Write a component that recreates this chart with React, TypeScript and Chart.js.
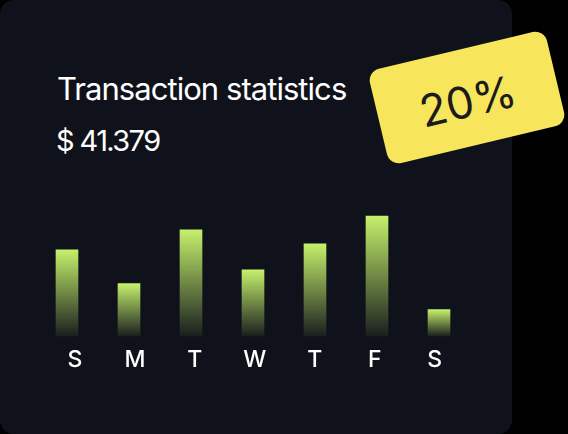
import { useEffect, useRef } from "react";
import { Chart, registerables } from "chart.js";

Chart.register(...registerables);

// weekly transactions, one bar per day
const days = ["S", "M", "T", "W", "T", "F", "S"];
const amounts = [87, 53, 107, 67, 93, 121, 27];

const title = "Transaction statistics";
const total = "$ 41.379";
const badge = "20%";

const LIME = "rgba(198, 241, 108, 1)";
const LIME_FADE = "rgba(198, 241, 108, 0.06)";

export default function App() {
  const canvasRef = useRef<HTMLCanvasElement | null>(null);
  const chartRef = useRef<Chart | null>(null);

  useEffect(() => {
    const ctx = canvasRef.current?.getContext("2d");
    if (!ctx) return;

    chartRef.current?.destroy();

    chartRef.current = new Chart(ctx, {
      type: "bar",
      data: {
        labels: days,
        datasets: [
          {
            data: amounts,
            barThickness: 22,
            borderWidth: 0,
            // each bar fades from lime at its top to nearly transparent at the base
            backgroundColor: (c: any) => {
              const chart = c.chart;
              const y = chart.scales?.y;
              if (c.type !== "data" || !chart.chartArea || !y) return LIME;
              const top = y.getPixelForValue(c.parsed.y);
              const bottom = y.getPixelForValue(0);
              const g = chart.ctx.createLinearGradient(0, top, 0, bottom);
              g.addColorStop(0, LIME);
              g.addColorStop(1, LIME_FADE);
              return g;
            },
          },
        ],
      },
      options: {
        responsive: true,
        maintainAspectRatio: false,
        animation: false,
        layout: { padding: { left: 36, right: 42, top: 27, bottom: 16 } },
        plugins: {
          legend: { display: false },
          tooltip: { enabled: false },
        },
        scales: {
          x: { type: "category", display: false, offset: true },
          // separate axis for the day letters, they sit slightly off the bar centres
          days: {
            type: "linear",
            position: "bottom",
            offset: false,
            min: -0.651,
            max: 6.591,
            afterBuildTicks: (axis: any) => {
              axis.ticks = days.map((_, i) => ({ value: i }));
            },
            grid: { display: false, drawTicks: false },
            border: { display: false },
            ticks: {
              autoSkip: false,
              maxRotation: 0,
              padding: 10,
              color: "#ffffff",
              font: { family: "Inter", size: 23, weight: 500 },
              callback: (v: any) => days[v] ?? "",
            },
          },
          y: { display: false, min: 0, max: 130 },
        },
      },
    });

    return () => {
      chartRef.current?.destroy();
      chartRef.current = null;
    };
  }, []);

  return (
    <div style={{ position: "fixed", inset: 0, background: "#000", overflow: "hidden" }}>
      <div
        style={{
          position: "absolute",
          left: 0,
          top: 0,
          width: 512,
          height: 434,
          background: "#0f121a",
          borderRadius: 14,
          fontFamily: "Inter, sans-serif",
        }}
      >
        <div
          style={{
            position: "absolute",
            left: 57,
            top: 72.5,
            fontSize: 31,
            letterSpacing: -0.95,
            lineHeight: 1,
            color: "#fff",
            whiteSpace: "nowrap",
          }}
        >
          {title}
        </div>
        <div
          style={{
            position: "absolute",
            left: 56,
            top: 125.5,
            fontSize: 29,
            letterSpacing: -1.6,
            lineHeight: 1,
            color: "#fff",
            whiteSpace: "nowrap",
          }}
        >
          {total}
        </div>
        <div style={{ position: "absolute", left: 0, top: 180, width: 512, height: 220 }}>
          <canvas ref={canvasRef}></canvas>
        </div>
      </div>
      <div
        style={{
          position: "absolute",
          left: 376,
          top: 49,
          width: 182,
          height: 97,
          background: "#f7e65b",
          borderRadius: 12,
          transform: "rotate(-13.4deg)",
          display: "flex",
          alignItems: "center",
          justifyContent: "center",
          boxSizing: "border-box",
          paddingTop: 6,
          fontFamily: "Inter, sans-serif",
          fontSize: 44,
          color: "#1b1b1b",
        }}
      >
        {badge}
      </div>
    </div>
  );
}
